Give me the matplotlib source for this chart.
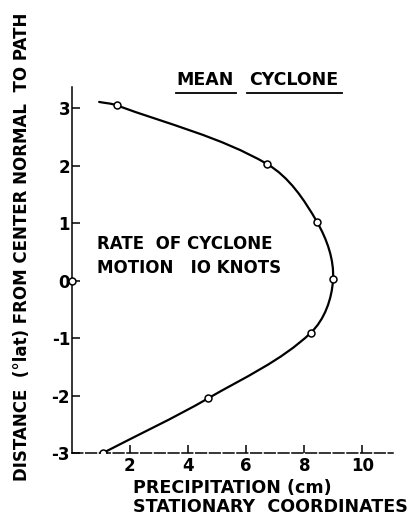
import numpy as np
import matplotlib
matplotlib.use("Agg")
import matplotlib.pyplot as plt
from matplotlib.path import Path
from matplotlib.patches import PathPatch

# values
precip_cm = [0.95, 1.56, 6.72, 8.44, 8.99, 8.22, 4.69, 1.08]
dist_lat = [3.11, 3.05, 2.03, 1.02, 0.02, -0.91, -2.05, -3.00]
has_marker = [False, True, True, True, True, True, True, True]
origin_pt = (0.0, 0.0)

xticks = [2, 4, 6, 8, 10]
yticks = [-3, -2, -1, 0, 1, 2, 3]

plt.rcParams['font.family'] = ['DejaVu Sans']
plt.rcParams['font.weight'] = 'bold'
plt.rcParams['axes.unicode_minus'] = False

fig = plt.figure(figsize=(4.12, 5.18), dpi=100)
ax = fig.add_axes([71.5 / 412, 65 / 518, 321.5 / 412, 366 / 518])
ax.set_xlim(0, 11.05)
ax.set_ylim(-3, 3.37)

YSCALE = 57.5 / 29.1  # px per unit y / px per unit x, keeps tangents even


def smooth_path(xs, ys):
    # chord-scaled hermite -> cubic bezier, passes through every point
    pts = np.column_stack([xs, np.asarray(ys) * YSCALE])
    n = len(pts)
    tang = []
    for k in range(n):
        a = pts[max(k - 1, 0)]
        b = pts[min(k + 1, n - 1)]
        d = b - a
        tang.append(d / np.hypot(*d))
    verts = [pts[0]]
    codes = [Path.MOVETO]
    for i in range(n - 1):
        p1, p2 = pts[i], pts[i + 1]
        L = np.hypot(*(p2 - p1)) / 3.0
        verts += [p1 + tang[i] * L, p2 - tang[i + 1] * L, p2]
        codes += [Path.CURVE4] * 3
    verts = np.array(verts)
    verts[:, 1] /= YSCALE
    return Path(verts, codes)


ax.add_patch(PathPatch(smooth_path(precip_cm, dist_lat), fill=False,
                       lw=1.6, edgecolor='black', capstyle='round'))

mx = [x for x, m in zip(precip_cm, has_marker) if m]
my = [y for y, m in zip(dist_lat, has_marker) if m]
ax.plot(mx, my, 'o', ms=5, mfc='white', mec='black', mew=1.1, zorder=3)
ax.plot(*origin_pt, 'o', ms=5, mfc='white', mec='black', mew=1.1,
        zorder=3, clip_on=False)

for s in ['top', 'right']:
    ax.spines[s].set_visible(False)
ax.spines['left'].set_linewidth(1.1)
ax.spines['bottom'].set_linewidth(1.1)
ax.spines['bottom'].set_linestyle((0, (7, 2)))

ax.set_xticks(xticks)
ax.set_yticks(yticks)
ax.set_xticklabels([str(t) for t in xticks])
ax.set_yticklabels([str(t) for t in yticks])
ax.tick_params(axis='both', direction='in', length=6, width=1.1,
               labelsize=12, pad=3)
ax.tick_params(axis='y', pad=1)
for lab in ax.get_xticklabels() + ax.get_yticklabels():
    lab.set_fontweight('bold')

# title, each word underlined
fig.text(205 / 412, 1 - 80 / 518, 'MEAN', ha='center', va='center',
         fontsize=12.5)
fig.text(294 / 412, 1 - 80 / 518, 'CYCLONE', ha='center', va='center',
         fontsize=12.5)
ax.plot([176 / 412, 236 / 412], [1 - 93 / 518] * 2, transform=fig.transFigure,
        color='black', lw=1.3, clip_on=False)
ax.plot([247 / 412, 342 / 412], [1 - 93 / 518] * 2, transform=fig.transFigure,
        color='black', lw=1.3, clip_on=False)

fig.text(97 / 412, 1 - 244 / 518, 'RATE  OF CYCLONE', ha='left',
         va='center', fontsize=12)
fig.text(97 / 412, 1 - 268 / 518, 'MOTION   IO KNOTS', ha='left',
         va='center', fontsize=12)

fig.text(133 / 412, 1 - 488 / 518, 'PRECIPITATION (cm)', ha='left',
         va='center', fontsize=12.6)
fig.text(133 / 412, 1 - 507 / 518, 'STATIONARY  COORDINATES', ha='left',
         va='center', fontsize=12.6)
fig.text(22 / 412, 1 - 247 / 518,
         'DISTANCE  (\u00b0lat) FROM CENTER NORMAL  TO PATH',
         rotation=90, ha='center', va='center', fontsize=12)

fig.savefig('out.png', dpi=100, facecolor='white')
